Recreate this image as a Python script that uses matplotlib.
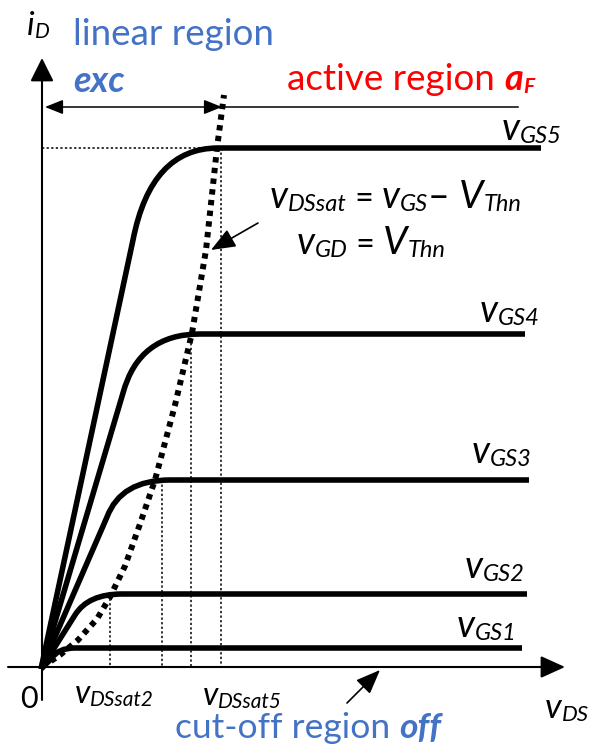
import matplotlib
matplotlib.use("Agg")
import matplotlib.pyplot as plt
from matplotlib.path import Path
from matplotlib.patches import PathPatch, FancyArrowPatch

plt.rcParams['font.family'] = ['Lato', 'DejaVu Sans']

BLUE = '#4472C4'
RED = '#FF0000'

# drawing is laid out in picture units (x right, y down)
origin = (41, 669)

# output curves vGS1..vGS5: end of linear part, bezier control, saturation point, end of flat part
knee_start = [(52, 658), (75, 615), (107, 517), (123, 393), (133, 240)]
knee_ctrl = [(58, 648), (88, 594), (121, 480), (139, 334), (151, 148)]
sat_point = [(75, 648), (122, 594), (170, 480), (200, 334), (218, 148)]
flat_end = [522, 527, 529, 525, 541]
curve_labels = ['GS1', 'GS2', 'GS3', 'GS4', 'GS5']
label_pos = [(457, 637), (465, 578), (472, 463), (480, 322), (502, 140)]

# vDS = vGS - VThn locus (dotted parabola)
locus_x = [42, 60, 78, 97, 110, 125, 140, 155, 175, 192, 206, 217, 224]
locus_y = [667, 655, 640, 619, 597, 566, 524, 480, 405, 333, 250, 148, 95]

# thin dotted drop lines from the saturation points
drop_x = [110, 162, 191, 221]
drop_top = [594, 480, 334, 148]

fig = plt.figure(figsize=(5.96, 7.5), dpi=100)
ax = fig.add_axes([0, 0, 1, 1])
ax.set_xlim(0, 596)
ax.set_ylim(750, 0)
ax.axis('off')


def arrow(p0, p1, style, lw, ms=20):
    a = FancyArrowPatch(p0, p1, arrowstyle=style, mutation_scale=ms, lw=lw,
                        color='black', shrinkA=0, shrinkB=0)
    ax.add_patch(a)


# axes
arrow((42, 700), (42, 58), '-|>,head_length=0.72,head_width=0.36', 1.5)
arrow((8, 667), (565, 667), '-|>,head_length=0.75,head_width=0.34', 1.5)

# linear-region span arrow and active-region line
arrow((45, 107), (222, 107), '<|-|>,head_length=0.55,head_width=0.22', 1.1)
ax.plot([222, 518], [107, 107], color='black', lw=1.1)

# drop lines
ax.plot([42, 218], [148, 148], color='black', lw=1.1, ls=(0, (1.5, 1.5)))
for x, top in zip(drop_x, drop_top):
    ax.plot([x, x], [top, 667], color='black', lw=1.1, ls=(0, (1.5, 1.5)))

# output characteristics
for ks, kc, sp, xe in zip(knee_start, knee_ctrl, sat_point, flat_end):
    verts = [origin, ks, kc, sp, (xe, sp[1])]
    codes = [Path.MOVETO, Path.LINETO, Path.CURVE3, Path.CURVE3, Path.LINETO]
    ax.add_patch(PathPatch(Path(verts, codes), fill=False, lw=4,
                           capstyle='butt', joinstyle='round'))

ax.plot(locus_x, locus_y, color='black', lw=4.3, ls=(0, (0.9, 0.9)),
        dash_capstyle='butt')


def label(x, y, parts, color='black'):
    # parts: (text, size, style, weight, drop)
    prev = None
    for s, size, style, weight, drop in parts:
        kw = dict(fontsize=size, fontstyle=style, fontweight=weight,
                  color=color, va='baseline', ha='left')
        if prev is None:
            prev = ax.text(x, y + drop, s, **kw)
        else:
            prev = ax.annotate(s, xy=(1, y), xycoords=(prev, 'data'),
                               xytext=(0, -drop), textcoords='offset pixels', **kw)
    return prev


for name, (x, y) in zip(curve_labels, label_pos):
    label(x, y, [('v', 27, 'italic', 'normal', 0), (name, 17, 'italic', 'normal', 3)])

label(27, 35, [('i', 24, 'italic', 'normal', 0), ('D', 15, 'italic', 'normal', 3)])
label(20, 708, [('0', 22, 'normal', 'normal', 0)])
label(75, 703, [('v', 23, 'italic', 'normal', 0), ('DSsat2', 15, 'italic', 'normal', 3)])
label(203, 705, [('v', 23, 'italic', 'normal', 0), ('DSsat5', 15, 'italic', 'normal', 3)])
label(545, 718, [('v', 25, 'italic', 'normal', 0), ('DS', 16, 'italic', 'normal', 3)])

label(270, 208, [('v', 27, 'italic', 'normal', 0), ('DSsat', 17, 'italic', 'normal', 3),
                 (' = ', 23, 'normal', 'normal', 0), ('v', 27, 'italic', 'normal', 0),
                 ('GS', 17, 'italic', 'normal', 3), ('\u2013 ', 27, 'normal', 'normal', 0),
                 ('V', 28, 'italic', 'normal', 0), ('Thn', 17, 'italic', 'normal', 3)])
label(297, 254, [('v', 27, 'italic', 'normal', 0), ('GD', 17, 'italic', 'normal', 3),
                 (' = ', 23, 'normal', 'normal', 0), ('V', 28, 'italic', 'normal', 0),
                 ('Thn', 17, 'italic', 'normal', 3)])

label(73, 45, [('linear region', 26.5, 'normal', 'normal', 0)], BLUE)
label(73, 92, [('exc', 26, 'italic', 'bold', 0)], BLUE)
label(287, 90, [('active region ', 26.5, 'normal', 'normal', 0), ('a', 26, 'italic', 'bold', 0),
                ('F', 15, 'italic', 'bold', 3)], RED)
label(175, 738, [('cut-off region ', 25.5, 'normal', 'normal', 0), ('off', 25.5, 'italic', 'bold', 0)], BLUE)

arrow((258, 223), (211, 250), '-|>,head_length=0.75,head_width=0.3', 1.2)
arrow((347, 703), (380, 670), '-|>,head_length=0.75,head_width=0.3', 1.2)

fig.savefig('out.png', dpi=100)
